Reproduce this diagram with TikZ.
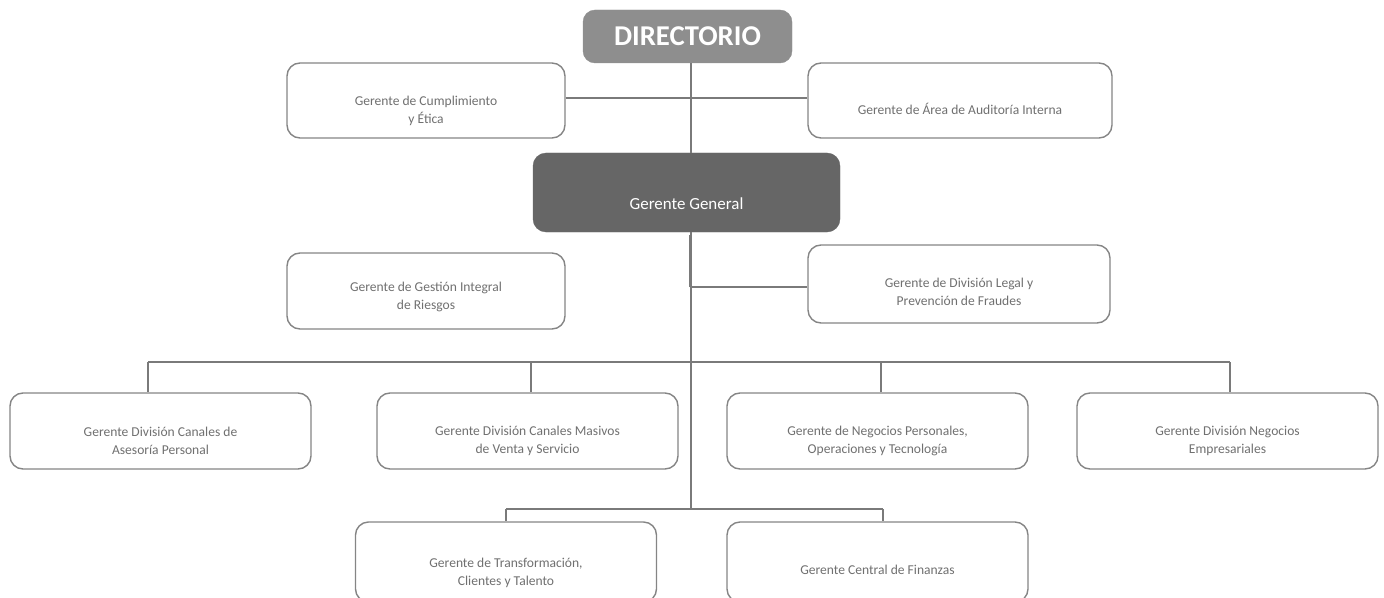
\documentclass[tikz,border=0pt]{standalone}
\usepackage{fontspec}
\setmainfont{Carlito}
\definecolor{edgegray}{HTML}{858585}
\definecolor{wiregray}{HTML}{7A7A7A}
\definecolor{labelgray}{HTML}{707070}
\definecolor{topfill}{HTML}{8E8E8E}
\definecolor{genfill}{HTML}{666666}
\tikzset{
  unitbox/.style={draw=edgegray, line width=1.4bp, rounded corners=13bp, fill=white,
    minimum width=301bp, minimum height=76bp, inner sep=0pt},
  unittext/.style={text=labelgray, align=center, font=\fontsize{13.6}{18}\selectfont, inner sep=0pt},
  wire/.style={draw=wiregray, line width=1.8bp},
}
\begin{document}
\begin{tikzpicture}[x=1bp, y=-1bp]
\useasboundingbox (0,0) rectangle (1384,598);

% top of the hierarchy
\node[draw=topfill, fill=topfill, rounded corners=12bp, minimum width=209bp, minimum height=53bp,
  inner sep=0pt, text=white, font=\fontsize{28.8}{30}\bfseries\selectfont] (dir) at (687.5,36.5) {DIRECTORIO};

% staff units reporting to the board
\node[unitbox, minimum width=278bp, minimum height=75bp] (cump) at (426,100.5) {};
\node[unitbox, minimum width=304bp, minimum height=75bp] (audi) at (960,100.5) {};

% general manager
\node[draw=genfill, fill=genfill, rounded corners=13bp, minimum width=307bp, minimum height=79bp,
  inner sep=0pt] (gg) at (686.5,192.5) {};

% staff units reporting to the general manager
\node[unitbox, minimum width=278bp] (ries) at (426,291) {};
\node[unitbox, minimum width=302bp, minimum height=78bp] (legal) at (959,284) {};

% divisions
\node[unitbox] (asesor) at (160.5,431) {};
\node[unitbox] (masiv) at (527.5,431) {};
\node[unitbox] (negoc) at (877.5,431) {};
\node[unitbox] (empre) at (1227.5,431) {};

% lower row
\node[unitbox, minimum height=80bp] (transf) at (506,562) {};
\node[unitbox, minimum height=80bp] (finan) at (877.5,562) {};

% labels, set a little below each box centre
\node[text=white, font=\fontsize{17}{19}\selectfont] at ([yshift=-11bp]gg.center) {Gerente General};
\node[unittext] at ([yshift=-10bp]cump.center) {Gerente de Cumplimiento\\y Ética};
\node[unittext] at ([yshift=-8bp]audi.center) {Gerente de Área de Auditoría Interna};
\node[unittext] at ([yshift=-6bp]ries.center) {Gerente de Gestión Integral\\de Riesgos};
\node[unittext] at ([yshift=-8bp]legal.center) {Gerente de División Legal y\\Prevención de Fraudes};
\node[unittext] at ([yshift=-10bp]asesor.center) {Gerente División Canales de\\Asesoría Personal};
\node[unittext] at ([yshift=-10bp]masiv.center) {Gerente División Canales Masivos\\de Venta y Servicio};
\node[unittext] at ([yshift=-10bp]negoc.center) {Gerente de Negocios Personales,\\Operaciones y Tecnología};
\node[unittext] at ([yshift=-10bp]empre.center) {Gerente División Negocios\\Empresariales};
\node[unittext] at ([yshift=-11bp]transf.center) {Gerente de Transformación,\\Clientes y Talento};
\node[unittext] at ([yshift=-8bp]finan.center) {Gerente Central de Finanzas};

% spine and junction points
\coordinate (spinetop) at (691,63);
\coordinate (jstaff) at (691,98);
\coordinate (jlegal) at (691,287);
\coordinate (jbus) at (691,362);
\coordinate (jlow) at (691,509);

% where the drop lines leave the bars
\coordinate (dasesor) at (148,362);
\coordinate (dmasiv) at (531,362);
\coordinate (dnegoc) at (881,362);
\coordinate (dempre) at (1230,362);
\coordinate (dtransf) at (506,509);
\coordinate (dfinan) at (883,509);

% connectors
\draw[wire] (dir.south -| spinetop) -- (gg.north -| spinetop);
\draw[wire] (cump.east |- jstaff) -- (audi.west |- jstaff);
\draw[wire] (gg.south -| spinetop) -- (jlow);
\draw[wire] ([xshift=-1.5bp]jlegal) -- ([xshift=-1.5bp,yshift=52bp]jlegal);
\draw[wire] (jlegal) -- (legal.west |- jlegal);
\draw[wire] (dasesor) -- (dempre);
\draw[wire] (dasesor) -- (dasesor |- asesor.north);
\draw[wire] (dmasiv) -- (dmasiv |- masiv.north);
\draw[wire] (dnegoc) -- (dnegoc |- negoc.north);
\draw[wire] (dempre) -- (dempre |- empre.north);
\draw[wire] (dtransf) -- (dfinan);
\draw[wire] (dtransf) -- (dtransf |- transf.north);
\draw[wire] (dfinan) -- (dfinan |- finan.north);
\end{tikzpicture}
\end{document}
